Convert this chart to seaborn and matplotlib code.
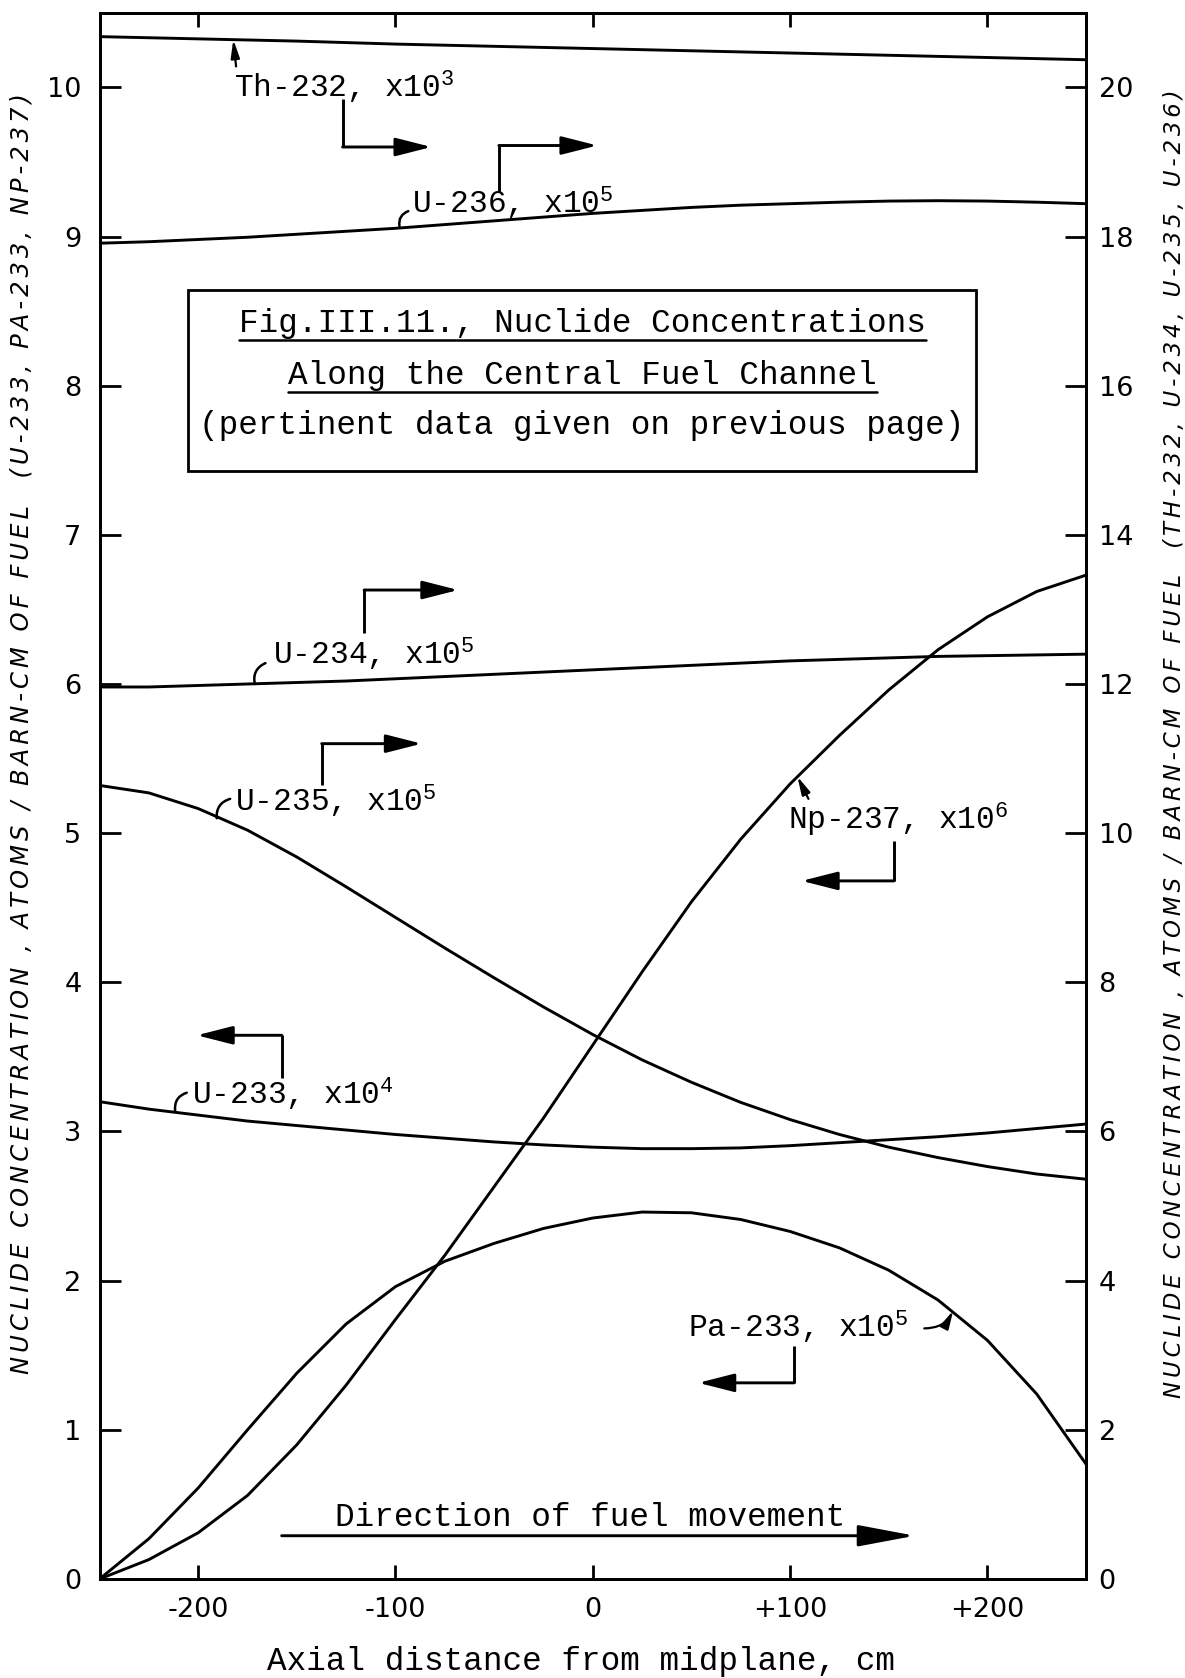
import matplotlib
matplotlib.use("Agg")
import matplotlib.pyplot as plt
from matplotlib.patches import Rectangle
import pandas as pd
import seaborn as sns

# Axial positions along the central fuel channel (cm from midplane)
axial_cm = [-250, -225, -200, -175, -150, -125, -100, -75, -50, -25, 0,
            25, 50, 75, 100, 125, 150, 175, 200, 225, 250]

# Left-hand scale: U-233 (x1e4), Pa-233 (x1e5), Np-237 (x1e6)
u233_e4 = [3.20, 3.15, 3.11, 3.07, 3.04, 3.01, 2.98, 2.955, 2.93, 2.91, 2.895,
           2.885, 2.885, 2.89, 2.905, 2.925, 2.945, 2.965, 2.99, 3.02, 3.05]
pa233_e5 = [0.00, 0.27, 0.61, 1.00, 1.38, 1.71, 1.96, 2.13, 2.25, 2.35, 2.42,
            2.46, 2.455, 2.41, 2.33, 2.22, 2.07, 1.87, 1.60, 1.24, 0.77]
np237_e6 = [0.00, 0.13, 0.31, 0.56, 0.90, 1.30, 1.74, 2.17, 2.63, 3.09, 3.58,
            4.07, 4.54, 4.96, 5.33, 5.655, 5.96, 6.23, 6.45, 6.62, 6.73]

# Right-hand scale: Th-232 (x1e3), U-234, U-235, U-236 (x1e5)
th232_e3 = [20.68, 20.665, 20.65, 20.635, 20.62, 20.60, 20.58, 20.565, 20.55,
            20.535, 20.52, 20.505, 20.49, 20.475, 20.46, 20.445, 20.43, 20.415,
            20.40, 20.385, 20.37]
u234_e5 = [11.96, 11.96, 11.98, 12.00, 12.02, 12.04, 12.07, 12.10, 12.13, 12.16,
           12.19, 12.22, 12.25, 12.28, 12.31, 12.33, 12.35, 12.37, 12.38, 12.39,
           12.40]
u235_e5 = [10.64, 10.54, 10.33, 10.04, 9.68, 9.28, 8.87, 8.46, 8.06, 7.67, 7.30,
           6.96, 6.66, 6.39, 6.16, 5.96, 5.79, 5.65, 5.53, 5.43, 5.36]
u236_e5 = [17.91, 17.93, 17.96, 17.99, 18.03, 18.07, 18.11, 18.16, 18.21, 18.26,
           18.31, 18.35, 18.39, 18.42, 18.44, 18.46, 18.475, 18.48, 18.475,
           18.46, 18.44]

x_ticks = [-200, -100, 0, 100, 200]
x_tick_labels = ["-200", "-100", "0", "+100", "+200"]
left_ticks = list(range(0, 11))
right_ticks = list(range(0, 21, 2))

left_df = pd.DataFrame({"x": axial_cm, "U-233": u233_e4, "Pa-233": pa233_e5,
                        "Np-237": np237_e6})
right_df = pd.DataFrame({"x": axial_cm, "Th-232": th232_e3, "U-234": u234_e5,
                         "U-235": u235_e5, "U-236": u236_e5})

sns.set_theme(style="ticks")
MONO = "Liberation Mono"
plt.rcParams.update({
    "font.family": ["DejaVu Sans"],
    "axes.unicode_minus": False,
    "mathtext.fontset": "custom",
    "mathtext.rm": MONO,
    "mathtext.it": MONO,
    "mathtext.bf": MONO,
    "axes.edgecolor": "black",
    "axes.linewidth": 2.0,
})

fig = plt.figure(figsize=(11.85, 16.78), dpi=100)
ax = fig.add_axes([0.084, 0.0590, 0.8325, 0.9334])
ax2 = ax.twinx()

LW = 2.1
for col in ["U-233", "Pa-233", "Np-237"]:
    sns.lineplot(data=left_df, x="x", y=col, ax=ax, color="black",
                 linewidth=LW, legend=False)
for col in ["Th-232", "U-234", "U-235", "U-236"]:
    sns.lineplot(data=right_df, x="x", y=col, ax=ax2, color="black",
                 linewidth=LW, legend=False)
for line in ax.lines + ax2.lines:
    line.set_solid_joinstyle("round")

ax.set_xlim(-250, 250)
ax.set_ylim(0, 10.5)
ax2.set_ylim(0, 21)

ax.set_xticks(x_ticks)
ax.set_xticklabels(x_tick_labels)
ax.set_yticks(left_ticks)
ax.set_yticklabels([str(v) for v in left_ticks])
ax2.set_yticks(right_ticks)
ax2.set_yticklabels([str(v) for v in right_ticks])

ax.tick_params(axis="x", direction="in", length=10, width=2, top=True,
               labelsize=19.5, pad=13, colors="black")
ax.tick_params(axis="y", direction="in", length=15, width=2,
               labelsize=19.5, pad=13, colors="black")
ax2.tick_params(axis="y", direction="in", length=15, width=2,
                labelsize=19.5, pad=9, colors="black")
ax.set_xlabel("")
ax.set_ylabel("")
ax2.set_ylabel("")
for a in (ax, ax2):
    for s in a.spines.values():
        s.set_visible(True)
        s.set_linewidth(2.0)
        s.set_color("black")

TXT = dict(family=MONO, fontsize=22.5, color="black")

# curve labels
labels = [
    ("Th-232, x10$^{3}$", -182.0, 10.00),
    ("U-236, x10$^{5}$", -91.4, 9.22),
    ("U-234, x10$^{5}$", -162.1, 6.20),
    ("U-235, x10$^{5}$", -181.4, 5.21),
    ("U-233, x10$^{4}$", -203.3, 3.25),
    ("Np-237, x10$^{6}$", 99.1, 5.09),
    ("Pa-233, x10$^{5}$", 48.4, 1.69),
]
for s, lx, ly in labels:
    ax.text(lx, ly, s, ha="left", va="center", **TXT)

# bent arrows telling which scale each curve is read on
brackets = [
    ((-126.8, 9.92), (-126.8, 9.60), (-81.8, 9.60)),
    ((-47.6, 9.30), (-47.6, 9.61), (2.3, 9.61)),
    ((-115.9, 6.34), (-115.9, 6.63), (-68.2, 6.63)),
    ((-137.4, 5.32), (-137.4, 5.60), (-86.7, 5.60)),
    ((-157.7, 3.36), (-157.7, 3.645), (-200.7, 3.645)),
    ((152.7, 4.95), (152.7, 4.68), (105.9, 4.68)),
    ((102.0, 1.56), (102.0, 1.315), (53.5, 1.315)),
]
head = dict(arrowstyle="-|>,head_length=1.1,head_width=0.28", lw=LW,
            color="black", mutation_scale=20, shrinkA=0, shrinkB=0)
for p0, p1, p2 in brackets:
    ax.plot([p0[0], p1[0]], [p0[1], p1[1]], color="black", lw=LW,
            solid_capstyle="butt")
    ax.annotate("", xy=p2, xytext=p1, arrowprops=head)

# leaders from labels to curves
small_head = dict(arrowstyle="-|>,head_length=0.9,head_width=0.22", lw=1.6,
                  color="black", mutation_scale=12, shrinkA=0, shrinkB=0)
ax.annotate("", xy=(-182.2, 10.32), xytext=(-180.8, 10.14), arrowprops=small_head)
ax.annotate("", xy=(103.7, 5.38), xytext=(109.3, 5.23), arrowprops=small_head)
ax.annotate("", xy=(182.7, 1.80), xytext=(168.0, 1.68),
            arrowprops=dict(small_head, connectionstyle="arc3,rad=0.3"))
hooks = [
    ((-93.5, 9.17), (-98.0, 9.07)),
    ((-165.9, 6.14), (-171.3, 6.00)),
    ((-183.8, 5.23), (-190.6, 5.10)),
    ((-205.8, 3.26), (-211.7, 3.14)),
]
for a_from, a_to in hooks:
    ax.annotate("", xy=a_to, xytext=a_from,
                arrowprops=dict(arrowstyle="-", lw=1.8, color="black",
                                shrinkA=0, shrinkB=0,
                                connectionstyle="arc3,rad=0.4"))

# direction of fuel movement
ax.annotate("", xy=(163.3, 0.29), xytext=(-157.7, 0.29),
            arrowprops=dict(arrowstyle="-|>,head_length=1.6,head_width=0.3",
                            lw=LW, color="black", mutation_scale=22,
                            shrinkA=0, shrinkB=0))
ax.text(-1.4, 0.415, "Direction of fuel movement", ha="center", va="center",
        family=MONO, fontsize=23.5, color="black")

# boxed figure caption
ax.add_patch(Rectangle((-205.1, 7.43), 399.3, 1.21, fill=False,
                       edgecolor="black", lw=2.0, zorder=3))
cap = [
    ("Fig.III.11., Nuclide Concentrations", 8.42, True),
    ("Along the Central Fuel Channel", 8.07, True),
    ("(pertinent data given on previous page)", 7.73, False),
]
cap_texts = []
for s, cy, ul in cap:
    t = ax.text(-5.4, cy, s, ha="center", va="center", family=MONO,
                fontsize=23.5, color="black")
    cap_texts.append((t, ul))

fig.canvas.draw()
renderer = fig.canvas.get_renderer()
inv = ax.transData.inverted()
for t, ul in cap_texts:
    if not ul:
        continue
    bb = t.get_window_extent(renderer)
    (ux0, uy), (ux1, _) = inv.transform([(bb.x0, bb.y0 - 1), (bb.x1, bb.y0 - 1)])
    ax.plot([ux0, ux1], [uy, uy], color="black", lw=1.8)

ax.set_xlim(-250, 250)
ax.set_ylim(0, 10.5)

# axis titles (hand-lettered style, loosely spaced)
def spaced(s):
    return "\u2006".join(s)

fig.text(0.490, 0.0101, "Axial distance from midplane, cm", ha="center",
         va="center", family=MONO, fontsize=23.5, color="black")
fig.text(0.018, 0.563,
         spaced("NUCLIDE CONCENTRATION , ATOMS / BARN-CM OF FUEL  (U-233, PA-233, NP-237)"),
         rotation=90, ha="center", va="center", fontsize=17.5,
         fontstyle="italic", family=["DejaVu Sans"], color="black")
fig.text(0.991, 0.557,
         spaced("NUCLIDE CONCENTRATION , ATOMS / BARN-CM OF FUEL  (TH-232, U-234, U-235, U-236)"),
         rotation=90, ha="center", va="center", fontsize=16.5,
         fontstyle="italic", family=["DejaVu Sans"], color="black")

fig.savefig("out.png", dpi=100, facecolor="white")
